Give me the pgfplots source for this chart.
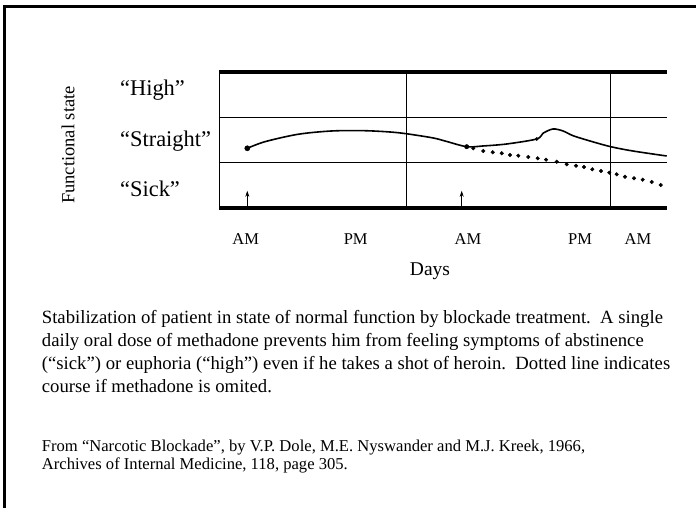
\documentclass[border=0pt]{standalone}
\usepackage{fontspec}
\setmainfont{Liberation Serif}
\usepackage{pgfplots}
\pgfplotsset{compat=1.18}
\usetikzlibrary{arrows.meta}
\begin{document}
\begin{tikzpicture}
\path[use as bounding box] (0pt,0pt) rectangle (696pt,508pt);
% frame
\draw[line width=3pt] (4.5pt,0pt) -- (4.5pt,501.3pt) -- (696pt,501.3pt);
\begin{axis}[
  at={(219pt,300pt)}, anchor=south west,
  scale only axis, width=448pt, height=136pt,
  xmin=219, xmax=667, ymin=0, ymax=3,
  clip=false,
  axis line style={draw=none},
  major tick length=0pt,
  ytick=\empty,
  xtick={245.7,355.7,468,580,638},
  xticklabels={AM,PM,AM,PM,AM},
  xticklabel style={anchor=base, yshift=-37pt, font=\fontsize{16.5}{16.5}\selectfont},
]
% frame lines of the chart
\addplot[black, line width=3.2pt, forget plot] coordinates {(219,3) (667,3)};
\addplot[black, line width=3.2pt, forget plot] coordinates {(219,0) (667,0)};
\addplot[black, line width=0.9pt, forget plot] coordinates {(219,1) (667,1)};
\addplot[black, line width=0.9pt, forget plot] coordinates {(219,2) (667,2)};
\addplot[black, line width=0.9pt, forget plot] coordinates {(219,0) (219,3)};
\addplot[black, line width=0.9pt, forget plot] coordinates {(406,0) (406,3)};
\addplot[black, line width=0.9pt, forget plot] coordinates {(610.7,0) (610.7,3)};
% dose arrows
\addplot[black, line width=0.8pt, -{Stealth[length=6pt,width=4pt]}] coordinates {(247.3,0) (247.3,0.38)};
\addplot[black, line width=0.8pt, -{Stealth[length=6pt,width=4pt]}] coordinates {(461.7,0) (461.7,0.38)};
% functional state with methadone
\addplot[black, line width=1.6pt, smooth, tension=0.5] coordinates {
 (247.3,1.317) (265,1.463) (298,1.626) (331.7,1.699) (365,1.705) (398,1.661)
 (431.7,1.551) (445,1.478) (466.7,1.352) (483,1.368) (506.7,1.412) (536.7,1.522)
 (543,1.648) (553,1.743) (563,1.699) (573,1.595) (590,1.478) (610.7,1.352)
 (633,1.257) (666.7,1.147)};
\addplot[only marks, mark=*, mark size=2.6pt, black] coordinates {(247.3,1.317)};
\addplot[only marks, mark=*, mark size=2.2pt, black] coordinates {(466.7,1.352)};
\addplot[only marks, mark=*, mark size=1.6pt, black] coordinates {(536.7,1.522)};
% course if methadone omitted (dotted)
\addplot[only marks, mark=*, mark size=1.8pt, black] coordinates {
 (466.7,1.352) (473.3,1.317) (483.3,1.257) (492.7,1.229) (501.7,1.207) (510,1.169)
 (518.3,1.154) (528.3,1.125) (537.7,1.096) (546,1.066) (556.7,1.021) (566.7,0.964)
 (576,0.933) (584,0.904) (592.3,0.854) (601,0.816) (609.3,0.779) (616.7,0.743)
 (625,0.690) (634,0.655) (642.7,0.624) (651.7,0.574) (660.7,0.507)};
\end{axis}
% labels
\node[anchor=base west, inner sep=0pt, font=\fontsize{22.4}{22.4}\selectfont] at (120pt,412pt) {“High”};
\node[anchor=base west, inner sep=0pt, font=\fontsize{22.4}{22.4}\selectfont] at (120pt,361pt) {“Straight”};
\node[anchor=base west, inner sep=0pt, font=\fontsize{22.4}{22.4}\selectfont] at (120pt,311pt) {“Sick”};
\node[rotate=90, inner sep=0pt, font=\fontsize{18.5}{18.5}\selectfont] at (68pt,363pt) {Functional state};
\node[anchor=base, inner sep=0pt, font=\fontsize{19.5}{19.5}\selectfont] at (430pt,232pt) {Days};
\node[anchor=base west, inner sep=0pt, align=left, font=\fontsize{18.7}{23}\selectfont] at (41.7pt,115pt)
 {Stabilization of patient in state of normal function by blockade treatment.\ \ A single\\
  daily oral dose of methadone prevents him from feeling symptoms of abstinence\\
  (“sick”) or euphoria (“high”) even if he takes a shot of heroin.\ \ Dotted line indicates\\
  course if methadone is omited.};
\node[anchor=base west, inner sep=0pt, align=left, font=\fontsize{16.6}{18}\selectfont] at (41.7pt,38pt)
 {From “Narcotic Blockade”, by V.P. Dole, M.E. Nyswander and M.J. Kreek, 1966,\\
  Archives of Internal Medicine, 118, page 305.};
\end{tikzpicture}
\end{document}
